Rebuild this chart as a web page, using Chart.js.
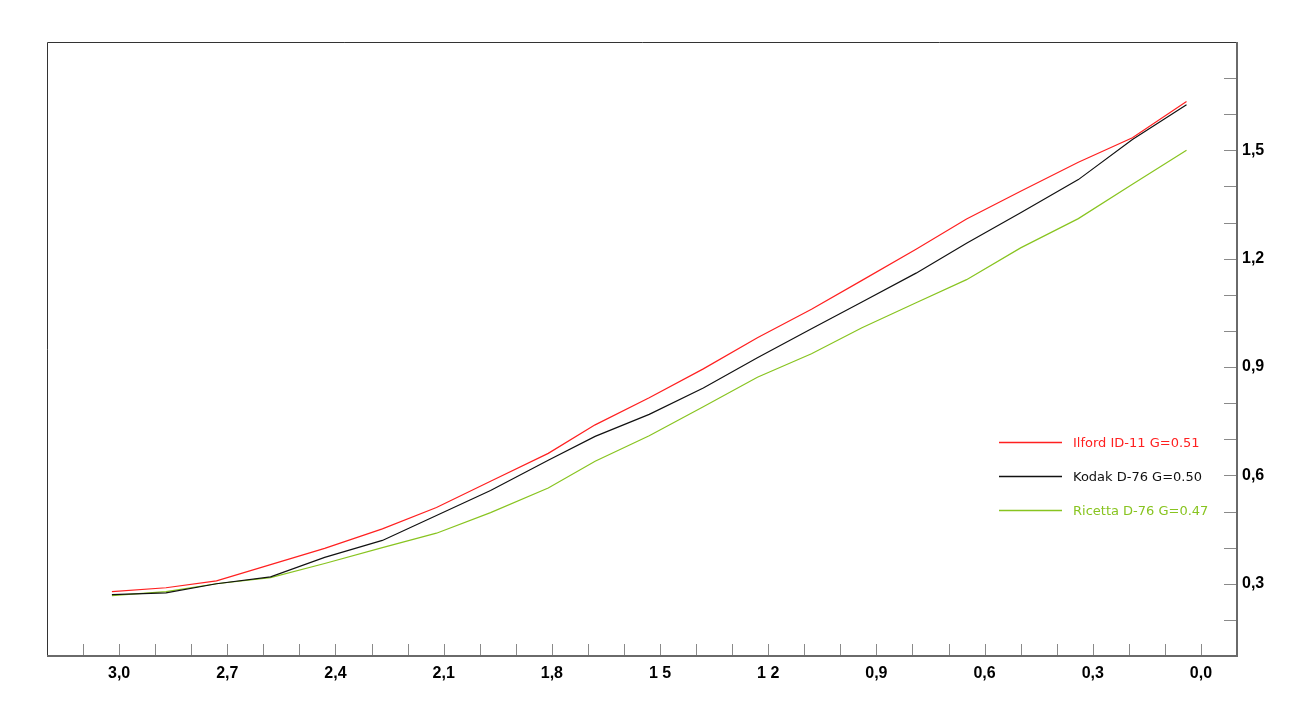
<!DOCTYPE html>
<html>
<head>
<meta charset="utf-8">
<script src="https://cdn.jsdelivr.net/npm/chart.js@4.4.1/dist/chart.umd.min.js"></script>
<style>
  html, body { margin: 0; padding: 0; background: #ffffff; }
  #wrap { width: 1312px; height: 724px; position: relative; }
</style>
</head>
<body>
<div id="wrap"><canvas id="c" width="1312" height="724"></canvas></div>
<script>
// ---- data ----
const densities = [3.02, 2.87, 2.73, 2.58, 2.43, 2.27, 2.12, 1.97, 1.81, 1.68, 1.53, 1.38, 1.23, 1.08, 0.94, 0.79, 0.65, 0.50, 0.34, 0.19, 0.04];
const ilfordID11 = [0.278, 0.289, 0.308, 0.353, 0.398, 0.452, 0.511, 0.584, 0.661, 0.740, 0.815, 0.895, 0.981, 1.060, 1.140, 1.226, 1.310, 1.387, 1.467, 1.535, 1.635];
const kodakD76 = [0.270, 0.275, 0.300, 0.319, 0.373, 0.420, 0.489, 0.558, 0.642, 0.708, 0.769, 0.842, 0.926, 1.006, 1.080, 1.160, 1.243, 1.327, 1.419, 1.530, 1.626];
const ricettaD76 = [0.267, 0.278, 0.300, 0.317, 0.356, 0.400, 0.440, 0.497, 0.565, 0.639, 0.710, 0.790, 0.872, 0.937, 1.009, 1.078, 1.142, 1.230, 1.311, 1.406, 1.500];
const seriesLabels = ["Ilford ID-11 G=0.51", "Kodak D-76 G=0.50", "Ricetta D-76 G=0.47"];
const seriesColors = ["#ff2020", "#111111", "#88c420"];
const xTickValues = [3.0, 2.7, 2.4, 2.1, 1.8, 1.5, 1.2, 0.9, 0.6, 0.3, 0.0];
const xTickLabels = ["3,0", "2,7", "2,4", "2,1", "1,8", "1 5", "1 2", "0,9", "0,6", "0,3", "0,0"];
const yTickValues = [0.3, 0.6, 0.9, 1.2, 1.5];
const yTickLabels = ["0,3", "0,6", "0,9", "1,2", "1,5"];

function pts(ys) { return densities.map((d, i) => ({ x: d, y: ys[i] })); }
function lookup(vals, labels, v) {
  for (let i = 0; i < vals.length; i++) if (Math.abs(vals[i] - v) < 1e-6) return labels[i];
  return '';
}

const framePlugin = {
  id: 'frame',
  afterDraw(chart) {
    const ctx = chart.ctx, a = chart.chartArea;
    const xs = chart.scales.x, ys = chart.scales.y;
    ctx.save();
    // tick marks
    ctx.strokeStyle = '#8a8a8a';
    ctx.lineWidth = 1;
    xs.ticks.forEach(t => {
      const px = Math.round(xs.getPixelForValue(t.value)) + 0.5;
      if (px <= a.left + 2 || px >= a.right - 2) return;
      ctx.beginPath(); ctx.moveTo(px, a.bottom); ctx.lineTo(px, a.bottom - 12); ctx.stroke();
    });
    ys.ticks.forEach(t => {
      const py = Math.round(ys.getPixelForValue(t.value)) + 0.5;
      if (py <= a.top + 2 || py >= a.bottom - 2) return;
      ctx.beginPath(); ctx.moveTo(a.right, py); ctx.lineTo(a.right - 13, py); ctx.stroke();
    });
    // left & top frame
    ctx.strokeStyle = '#333333';
    ctx.lineWidth = 1;
    ctx.beginPath();
    ctx.moveTo(a.left + 0.5, a.bottom);
    ctx.lineTo(a.left + 0.5, a.top + 0.5);
    ctx.lineTo(a.right, a.top + 0.5);
    ctx.stroke();
    // right & bottom axes
    ctx.strokeStyle = '#6a6a6a';
    ctx.lineWidth = 2;
    ctx.beginPath();
    ctx.moveTo(a.left, a.bottom);
    ctx.lineTo(a.right, a.bottom);
    ctx.lineTo(a.right, a.top);
    ctx.stroke();
    // legend
    ctx.font = '13px "DejaVu Sans"';
    ctx.textBaseline = 'middle';
    ctx.textAlign = 'left';
    chart.data.datasets.forEach((ds, i) => {
      const y = a.top + 400 + i * 34;
      ctx.strokeStyle = ds.borderColor;
      ctx.lineWidth = 1.5;
      ctx.beginPath(); ctx.moveTo(a.right - 238, y + 0.5); ctx.lineTo(a.right - 175, y + 0.5); ctx.stroke();
      ctx.fillStyle = ds.borderColor;
      ctx.fillText(ds.label, a.right - 164, y + 1.5);
    });
    ctx.restore();
  }
};

new Chart(document.getElementById('c'), {
  type: 'line',
  data: {
    datasets: [
      { label: seriesLabels[0], data: pts(ilfordID11), borderColor: seriesColors[0] },
      { label: seriesLabels[1], data: pts(kodakD76), borderColor: seriesColors[1] },
      { label: seriesLabels[2], data: pts(ricettaD76), borderColor: seriesColors[2] }
    ].map(d => Object.assign(d, { borderWidth: 1.2, pointRadius: 0, tension: 0, fill: false }))
  },
  options: {
    responsive: false,
    animation: false,
    layout: { padding: { left: 47, top: 42, right: 0, bottom: 0 } },
    plugins: { legend: { display: false }, tooltip: { enabled: false } },
    scales: {
      x: {
        type: 'linear', reverse: true, min: -0.1, max: 3.2,
        grid: { display: false, drawTicks: false },
        border: { display: false },
        afterFit(s) { s.height = 68; },
        ticks: {
          stepSize: 0.1, autoSkip: false, maxRotation: 0, padding: 8,
          color: '#000', font: { family: 'Liberation Sans', size: 16, weight: 'bold' },
          callback: v => lookup(xTickValues, xTickLabels, v)
        }
      },
      y: {
        type: 'linear', position: 'right', min: 0.1, max: 1.8,
        grid: { display: false, drawTicks: false },
        border: { display: false },
        afterFit(s) { s.width = 75; },
        ticks: {
          stepSize: 0.1, autoSkip: false, padding: 5,
          color: '#000', font: { family: 'Liberation Sans', size: 16, weight: 'bold' },
          callback: v => lookup(yTickValues, yTickLabels, v)
        }
      }
    }
  },
  plugins: [framePlugin]
});
</script>
</body>
</html>
